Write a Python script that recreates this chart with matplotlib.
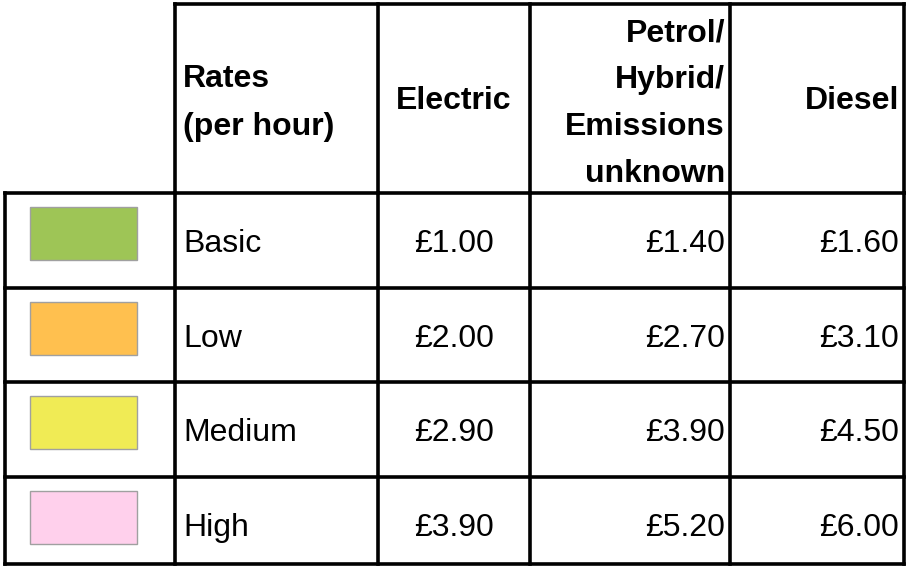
import matplotlib
matplotlib.use("Agg")
import matplotlib.pyplot as plt
from matplotlib.patches import Rectangle

# ---- data ----
header_rates = ["Rates", "(per hour)"]
header_cols = [["Electric"], ["Petrol/", "Hybrid/", "Emissions", "unknown"], ["Diesel"]]
bands = ["Basic", "Low", "Medium", "High"]
band_colors = ["#9EC556", "#FFC04F", "#F0EB55", "#FFD0EC"]
electric = ["£1.00", "£2.00", "£2.90", "£3.90"]
petrol = ["£1.40", "£2.70", "£3.90", "£5.20"]
diesel = ["£1.60", "£3.10", "£4.50", "£6.00"]

# ---- layout (pixels) ----
W, H = 907, 566
xs = [5, 175, 378, 530, 730, 904]
ys = [4, 193, 288, 382, 477, 564]

fig = plt.figure(figsize=(W / 100, H / 100), dpi=100)
ax = fig.add_axes([0, 0, 1, 1])
ax.set_xlim(0, W)
ax.set_ylim(H, 0)
ax.axis("off")

lw = 2.6
kw = dict(color="black", lw=lw, solid_capstyle="projecting")
# header box
ax.plot([xs[1], xs[-1]], [ys[0], ys[0]], **kw)
for x in xs[1:]:
    ax.plot([x, x], [ys[0], ys[1]], **kw)
# body
for y in ys[1:]:
    ax.plot([xs[0], xs[-1]], [y, y], **kw)
for x in xs:
    ax.plot([x, x], [ys[1], ys[-1]], **kw)

font = "Liberation Sans"
fs = 23

# header texts
ax.text(183, 79, header_rates[0], fontsize=fs, fontweight="bold", family=font, ha="left", va="center")
ax.text(183, 127, header_rates[1], fontsize=fs, fontweight="bold", family=font, ha="left", va="center")
ax.text((xs[2] + xs[3]) / 2, 101, header_cols[0][0], fontsize=fs, fontweight="bold", family=font, ha="center", va="center")
for i, line in enumerate(header_cols[1]):
    ax.text(xs[4] - 5, 33 + 47 * i, line, fontsize=fs, fontweight="bold", family=font, ha="right", va="center")
ax.text(xs[5] - 5, 101, header_cols[2][0], fontsize=fs, fontweight="bold", family=font, ha="right", va="center")

# body rows
for i, (b, c, e, p, d) in enumerate(zip(bands, band_colors, electric, petrol, diesel)):
    y0, y1 = ys[i + 1], ys[i + 2]
    yc = y0 + 51
    ax.add_patch(Rectangle((30, y0 + 14), 107, 53, facecolor=c, edgecolor="#A0A0A0", lw=1.0))
    ax.text(183, yc, b, fontsize=fs, family=font, ha="left", va="center")
    ax.text((xs[2] + xs[3]) / 2, yc, e, fontsize=fs, family=font, ha="center", va="center")
    ax.text(xs[4] - 5, yc, p, fontsize=fs, family=font, ha="right", va="center")
    ax.text(xs[5] - 5, yc, d, fontsize=fs, family=font, ha="right", va="center")

fig.savefig("out.png", dpi=100)
